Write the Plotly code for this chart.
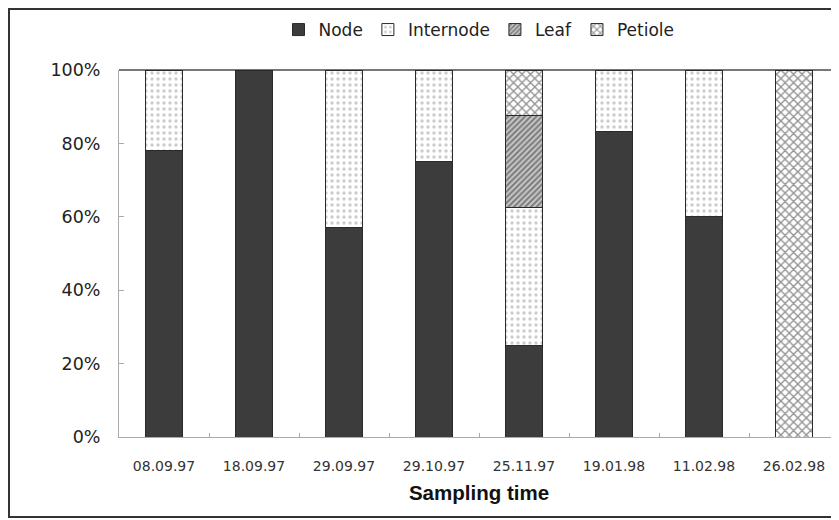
import plotly.graph_objects as go

categories = ["08.09.97", "18.09.97", "29.09.97", "29.10.97", "25.11.97", "19.01.98", "11.02.98", "26.02.98"]
node = [78, 100, 57, 75, 25, 83.3, 60, None]
internode = [22, None, 43, 25, 37.5, 16.7, 40, None]
leaf = [None, None, None, None, 25, None, None, None]
petiole = [None, None, None, None, 12.5, None, None, 100]
y_ticks = [0, 20, 40, 60, 80, 100]
y_tick_labels = ["0%", "20%", "40%", "60%", "80%", "100%"]

FONT = "DejaVu Sans, Arial, sans-serif"
line = dict(color="#2a2a2a", width=1)

# page body has an 8px margin, so the figure is drawn 8px smaller and offset
OFF = 8
W, H = 839 - OFF, 520 - OFF
L, T = 119 - OFF, 70 - OFF
PW, PH = 720, 367

fig = go.Figure()
fig.add_trace(go.Bar(name="Node", x=categories, y=node,
                     marker=dict(color="#3c3c3c", line=line)))
fig.add_trace(go.Bar(name="Internode", x=categories, y=internode,
                     marker=dict(color="white", line=line,
                                 pattern=dict(shape=".", fgcolor="#9a9a9a", bgcolor="white",
                                              size=6, solidity=0.25))))
fig.add_trace(go.Bar(name="Leaf", x=categories, y=leaf,
                     marker=dict(color="white", line=line,
                                 pattern=dict(shape="/", fgcolor="#2e2e2e", bgcolor="#c8c8c8",
                                              size=4, solidity=0.5))))
fig.add_trace(go.Bar(name="Petiole", x=categories, y=petiole,
                     marker=dict(color="white", line=line,
                                 pattern=dict(shape="x", fgcolor="#262626", bgcolor="white",
                                              size=6, solidity=0.4))))

fig.update_layout(
    width=W, height=H,
    barmode="stack", bargap=0.59,
    plot_bgcolor="white", paper_bgcolor="white",
    margin=dict(l=L, r=0, t=T, b=H - T - PH, autoexpand=False),
    font=dict(family=FONT, color="#222"),
    legend=dict(orientation="h", x=0.5, xanchor="center", y=(PH + 40) / PH, yanchor="middle",
                font=dict(size=17, family=FONT, color="#222"), itemwidth=30,
                traceorder="normal", bgcolor="rgba(0,0,0,0)"),
    showlegend=True,
)
fig.update_xaxes(
    range=[-0.5, 7.5], type="category",
    showline=True, linecolor="#aaaaaa", linewidth=1,
    ticks="inside", ticklen=4, tickcolor="#aaaaaa", tickson="boundaries",
    tickfont=dict(size=14, family=FONT, color="#333"),
    ticklabelstandoff=16,
    title=dict(text="<b>Sampling time</b>", font=dict(size=20.5, family="Arial, Liberation Sans, sans-serif", color="#111"),
               standoff=12),
    showgrid=False, zeroline=False,
)
fig.update_yaxes(
    range=[0, 100], tickvals=y_ticks, ticktext=y_tick_labels,
    showline=True, linecolor="#aaaaaa", linewidth=1,
    ticks="inside", ticklen=5, tickcolor="#aaaaaa",
    tickfont=dict(size=17.5, family=FONT, color="#222"),
    ticklabelstandoff=14,
    showgrid=False, zeroline=False,
)
# top line of plot area
fig.add_shape(type="line", xref="paper", yref="paper", x0=0, x1=1, y0=1, y1=1,
              line=dict(color="#777777", width=2), layer="below")
# outer frame (kept just inside the figure's own edge)
fig.add_shape(type="rect", xref="paper", yref="paper",
              x0=-(L - 1) / PW, x1=1.05, y0=(437 - 517) / PH, y1=(PH + T - 1) / PH,
              line=dict(color="#333333", width=2), fillcolor="rgba(0,0,0,0)", layer="below")

fig.write_html("out.html")
